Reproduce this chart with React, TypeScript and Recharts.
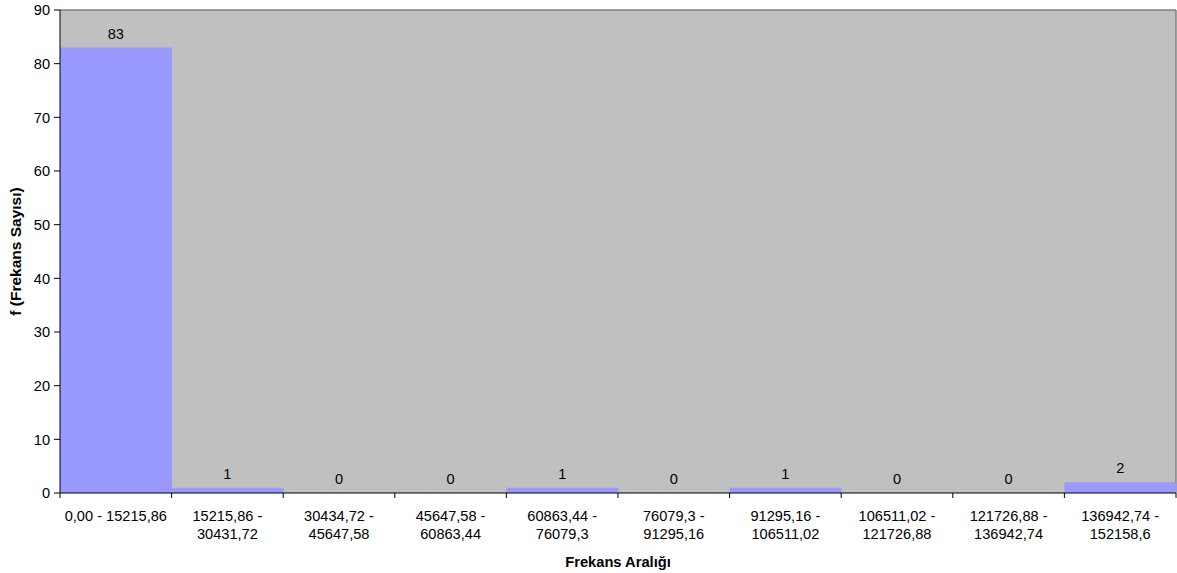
import React from "react";
import { ComposedChart, Bar, Line, XAxis, YAxis, CartesianGrid, LabelList, Label } from "recharts";

const categories = [
  "0,00 - 15215,86",
  "15215,86 - 30431,72",
  "30434,72 - 45647,58",
  "45647,58 - 60863,44",
  "60863,44 - 76079,3",
  "76079,3 - 91295,16",
  "91295,16 - 106511,02",
  "106511,02 - 121726,88",
  "121726,88 - 136942,74",
  "136942,74 - 152158,6",
];
const frequencies = [83, 1, 0, 0, 1, 0, 1, 0, 0, 2];
const yTicks = [0, 10, 20, 30, 40, 50, 60, 70, 80, 90];

const data = categories.map((c, i) => ({ range: c, f: frequencies[i] }));

const FONT = "'Liberation Sans', Arial, sans-serif";
const TICK_SIZE = 14.6;

const XTick = (props: any) => {
  const { x, y, payload, index, visibleTicksCount } = props;
  const label: string = String(payload.value);
  const lines = label.length > 15 ? [label.split(" - ")[0] + " -", label.split(" - ")[1]] : [label];
  const half = payload.offset ?? 55.8;
  const top = y - 8;
  return (
    <g>
      <line x1={x - half} x2={x - half} y1={top} y2={top + 5} stroke="#000" />
      {index === visibleTicksCount - 1 && (
        <line x1={x + half} x2={x + half} y1={top} y2={top + 5} stroke="#000" />
      )}
      <text x={x} y={top + 28} textAnchor="middle" fontSize={TICK_SIZE} fontFamily={FONT} fill="#000">
        {lines.map((l, i) => (
          <tspan key={i} x={x} dy={i === 0 ? 0 : 18}>
            {l}
          </tspan>
        ))}
      </text>
    </g>
  );
};

export default function App() {
  return (
    <div style={{ position: "absolute", left: 0, top: 0, width: 1177, height: 573, background: "#fff" }}>
      <ComposedChart
        width={1177}
        height={573}
        data={data}
        margin={{ top: 10, right: 1, left: 0, bottom: 0 }}
        barCategoryGap={0}
      >
        <CartesianGrid
          fill="#C0C0C0"
          stroke="#808080"
          strokeWidth={1.5}
          horizontalCoordinatesGenerator={({ offset }: any) => [offset.top]}
          verticalCoordinatesGenerator={({ offset }: any) => [offset.left + offset.width]}
        />
        <XAxis
          dataKey="range"
          height={80}
          interval={0}
          tickLine={false}
          axisLine={{ stroke: "#000" }}
          tick={<XTick />}
        >
          <Label
            value="Frekans Aralığı"
            position="insideBottom"
            offset={6}
            style={{ fontSize: 14.7, fontWeight: "bold", fontFamily: FONT, fill: "#000" }}
          />
        </XAxis>
        <YAxis
          width={60}
          domain={[0, 90]}
          ticks={yTicks}
          interval={0}
          tickSize={6}
          tickMargin={4}
          axisLine={{ stroke: "#000" }}
          tickLine={{ stroke: "#000" }}
          tick={{ fontSize: TICK_SIZE, fontFamily: FONT, fill: "#000" }}
        >
          <Label
            value="f (Frekans Sayısı)"
            angle={-90}
            position="insideLeft"
            offset={15}
            style={{ fontSize: 15.5, fontWeight: "bold", fontFamily: FONT, fill: "#000", textAnchor: "middle" }}
          />
        </YAxis>
        <Bar dataKey="f" fill="#9999FF" isAnimationActive={false} />
        <Line
          dataKey="f"
          stroke="none"
          dot={false}
          activeDot={false}
          legendType="none"
          isAnimationActive={false}
        >
          <LabelList
            dataKey="f"
            position="top"
            offset={9}
            style={{ fontSize: TICK_SIZE, fontFamily: FONT, fill: "#000" }}
          />
        </Line>
      </ComposedChart>
    </div>
  );
}
